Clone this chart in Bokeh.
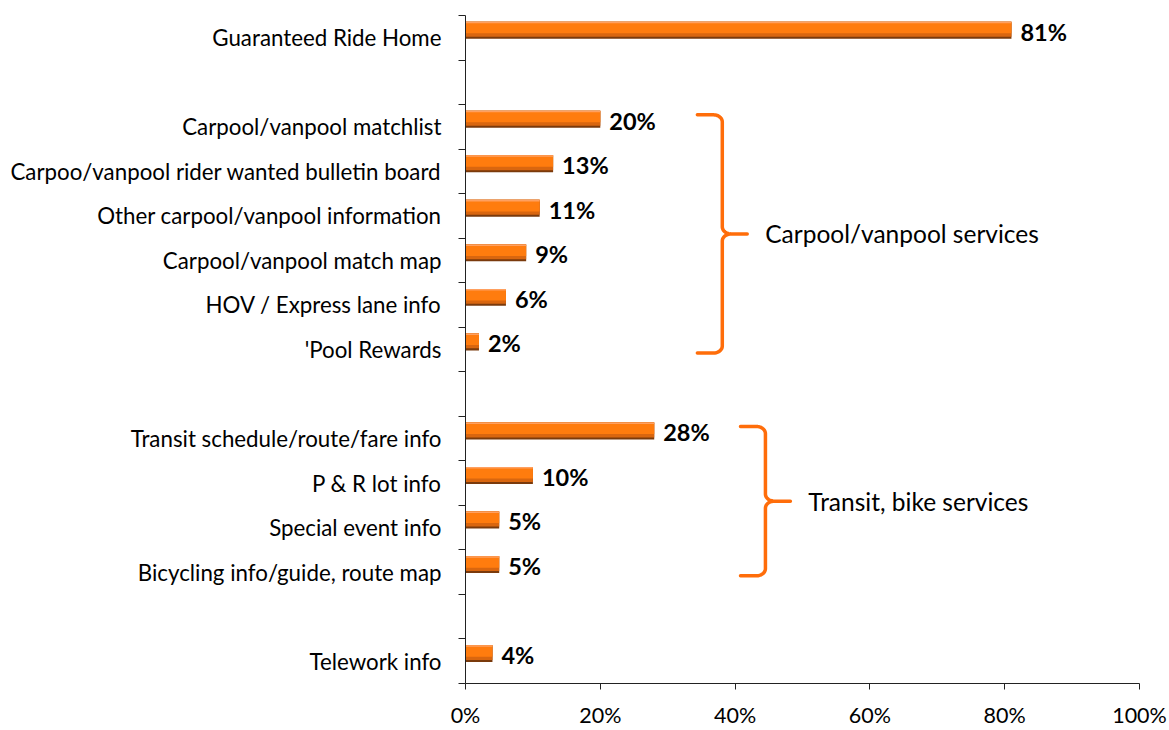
import numpy as np
from bokeh.plotting import figure
from bokeh.models import Range1d, FixedTicker, PrintfTickFormatter, ColumnDataSource
from bokeh.core.properties import value
from bokeh.embed import file_html
from bokeh.resources import INLINE

# ---------------- data ----------------
categories = [
    "Guaranteed Ride Home",
    "Carpool/vanpool matchlist",
    "Carpoo/vanpool rider wanted bulletin board",
    "Other carpool/vanpool information",
    "Carpool/vanpool match map",
    "HOV / Express lane info",
    "'Pool Rewards",
    "Transit schedule/route/fare info",
    "P & R lot info",
    "Special event info",
    "Bicycling info/guide, route map",
    "Telework info",
]
values = [81, 20, 13, 11, 9, 6, 2, 28, 10, 5, 5, 4]
# slot of each category (blank slots separate the groups)
slots = [0, 2, 3, 4, 5, 6, 7, 9, 10, 11, 12, 14]
n_slots = 15
x_ticks = [0, 20, 40, 60, 80, 100]

groups = ["Carpool/vanpool services", "Transit, bike services"]
group_first = [1, 7]   # index into categories
group_last = [6, 10]

# ---------------- styling constants ----------------
FONT = "Lato"
BAR_OFF = -0.17
BAR_H = 0.38
brace_x0 = [34.4, 40.8]      # where the brace hooks end (in %)
brace_w = 3.7                # horizontal depth of brace to the spine (in %)
brace_tip = 3.7              # tip length beyond the spine (in %)

p = figure(width=1169, height=730, output_backend="svg", toolbar_location=None,
           x_range=Range1d(0, 100), y_range=Range1d(n_slots - 0.5, -0.5),
           min_border_left=465, min_border_right=30, min_border_top=15,
           min_border_bottom=42)
p.outline_line_color = None
p.xgrid.visible = False
p.ygrid.visible = False
p.background_fill_color = "white"
p.border_fill_color = "white"

# bars, drawn in layers to mimic the shaded 3D look
c = np.array(slots, dtype=float) + BAR_OFF
top = c - BAR_H / 2
src = ColumnDataSource(dict(
    left=[0] * len(values), right=values,
    t=top, b=top + BAR_H,
    b2=top + BAR_H * 0.88, b3=top + BAR_H * 0.68, b4=top + BAR_H * 0.09,
    ly=np.array(slots, dtype=float) - 0.14,
    lab=[f"{v}%" for v in values],
))
p.quad(left="left", right="right", top="t", bottom="b", source=src,
       fill_color="#7A3A0C", line_color=None)
p.quad(left="left", right="right", top="t", bottom="b2", source=src,
       fill_color="#D9660F", line_color=None)
p.quad(left="left", right="right", top="t", bottom="b3", source=src,
       fill_color="#FF7C0E", line_color=None)
p.quad(left="left", right="right", top="t", bottom="b4", source=src,
       fill_color="#FFA060", line_color=None)

p.text(x="right", y="ly", text="lab", source=src, x_offset=9,
       text_font=value(FONT), text_font_style="bold", text_font_size="23.5px",
       text_baseline="middle", text_align="left", text_color="black")

# braces
def brace(x0, xs, xt, yt, yb):
    rx = 1.3
    ry = 0.16
    ym = (yt + yb) / 2
    t = np.linspace(0, np.pi / 2, 12)
    xs_, ys_ = [], []
    xs_ += [x0]; ys_ += [yt]
    xs_ += list(xs - rx + rx * np.sin(t)); ys_ += list(yt + ry * (1 - np.cos(t)))
    xs_ += list(xs + rx * (1 - np.cos(t))); ys_ += list(ym - ry + ry * np.sin(t))
    xs_ += [xt]; ys_ += [ym]
    xs_ += list(xs + rx * (1 - np.cos(t[::-1]))); ys_ += list(ym + ry - ry * np.sin(t[::-1]))
    xs_ += list(xs - rx + rx * np.sin(t[::-1])); ys_ += list(yb - ry * (1 - np.cos(t[::-1])))
    xs_ += [x0]; ys_ += [yb]
    return xs_, ys_

for g, gf, gl, bx in zip(groups, group_first, group_last, brace_x0):
    yt = slots[gf] - 0.27
    yb = slots[gl] + 0.08
    xs = bx + brace_w
    xt = xs + brace_tip
    bxs, bys = brace(bx, xs, xt, yt, yb)
    p.line(bxs, bys, line_color="#FF6D0A", line_width=3.5, line_join="round", line_cap="round")
    p.text(x=[xt], y=[(yt + yb) / 2], text=[g], x_offset=18,
           text_font=value(FONT), text_font_size="24.5px", text_baseline="middle",
           text_align="left", text_color="black")

# y axis: labels at category slots, ticks at slot boundaries
yax = p.yaxis[0]
yax.ticker = FixedTicker(ticks=slots, minor_ticks=[i - 0.5 for i in range(n_slots + 1)])
yax.major_label_overrides = {s: cat for s, cat in zip(slots, categories)}
yax.major_tick_out = 0
yax.major_tick_in = 0
yax.minor_tick_out = 7
yax.minor_tick_in = 0
yax.major_label_standoff = 17
yax.major_label_text_font = FONT
yax.major_label_text_font_size = "22.3px"
yax.major_label_text_color = "black"
yax.axis_line_color = "#222222"
yax.minor_tick_line_color = "#222222"

xax = p.xaxis[0]
xax.ticker = FixedTicker(ticks=x_ticks, minor_ticks=[])
xax.formatter = PrintfTickFormatter(format="%d%%")
xax.major_tick_out = 6
xax.major_tick_in = 0
xax.minor_tick_out = 0
xax.minor_tick_in = 0
xax.major_label_standoff = 12
xax.major_label_text_font = FONT
xax.major_label_text_font_size = "21.5px"
xax.major_label_text_color = "black"
xax.axis_line_color = "#222222"
xax.major_tick_line_color = "#222222"

open("out.html", "w").write(file_html(p, INLINE))
